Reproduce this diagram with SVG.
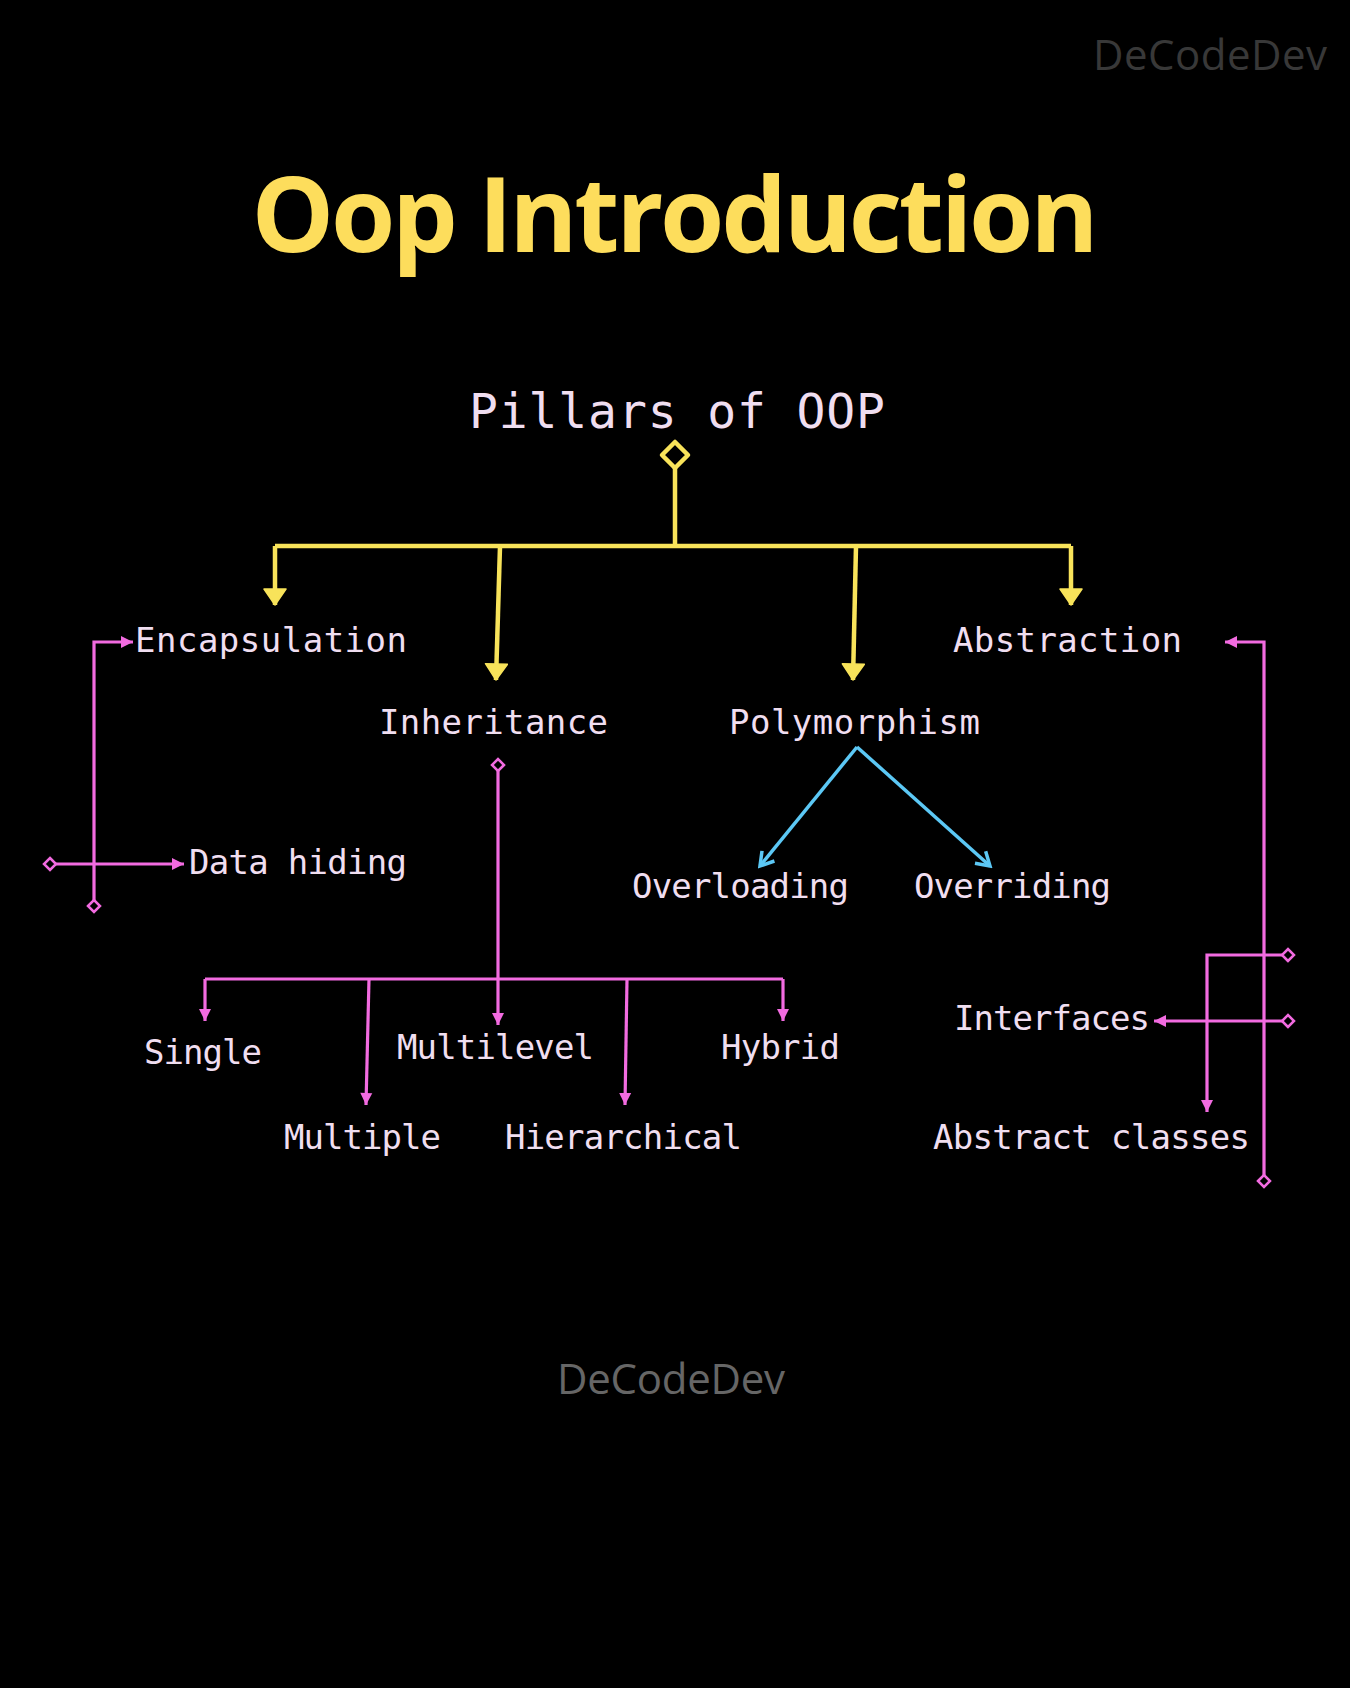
<svg xmlns="http://www.w3.org/2000/svg" width="1350" height="1688" viewBox="0 0 1350 1688">
<style>
.lbl{font-family:"DejaVu Sans Mono","Liberation Mono",monospace;font-size:34px;fill:#F0DEF0;}
.big{font-size:48px;}
.wm{font-family:"Open Sans","Noto Sans","Liberation Sans",sans-serif;font-size:42px;}
.y{stroke:#F8E35A;stroke-width:4.5;fill:none;}
.p{stroke:#F26BE0;stroke-width:3.2;fill:none;}
.b{stroke:#5CC8F5;stroke-width:3.5;fill:none;}
</style>
<defs>
<marker id="ay" markerUnits="userSpaceOnUse" markerWidth="24" markerHeight="24" viewBox="0 0 24 24" refX="20" refY="12" orient="auto"><path d="M4,1 L20,12 L4,23 Z" fill="#F8E35A" stroke="#F8E35A" stroke-width="1.5" stroke-linejoin="round"/></marker>
<marker id="ap" markerUnits="userSpaceOnUse" markerWidth="16" markerHeight="16" viewBox="0 0 16 16" refX="14" refY="8" orient="auto"><path d="M2,2 L14,8 L2,14 Z" fill="#F26BE0"/></marker>
<marker id="ab" markerUnits="userSpaceOnUse" markerWidth="20" markerHeight="20" viewBox="0 0 20 20" refX="17" refY="10" orient="auto"><path d="M4,2 L17,10 L4,18" fill="none" stroke="#5CC8F5" stroke-width="3.5"/></marker>
<marker id="dp" markerUnits="userSpaceOnUse" markerWidth="16" markerHeight="16" viewBox="0 0 16 16" refX="8" refY="8" orient="auto"><path d="M8,2 L14,8 L8,14 L2,8 Z" fill="#000" stroke="#F26BE0" stroke-width="2.5"/></marker>
<marker id="dy" markerUnits="userSpaceOnUse" markerWidth="34" markerHeight="34" viewBox="0 0 34 34" refX="17" refY="17" orient="auto"><path d="M17,4 L30,17 L17,30 L4,17 Z" fill="#000" stroke="#F8E35A" stroke-width="4.5" stroke-linejoin="round"/></marker>
</defs>
<rect width="1350" height="1688" fill="#000"/>

<text class="wm" x="1093" y="70" textLength="234" fill="#383838">DeCodeDev</text>
<text x="675" y="252" text-anchor="middle" textLength="847" font-family="'Open Sans','Noto Sans','Liberation Sans',sans-serif" font-weight="700" font-size="104" fill="#FDDD5C">Oop Introduction</text>
<text class="wm" x="557" y="1394" textLength="228" fill="#666666">DeCodeDev</text>

<g id="connectors">
  <path class="y" d="M675,455 V546" marker-start="url(#dy)"/>
  <path class="y" d="M275,546 H1071"/>
  <path class="y" d="M275,546 V605" marker-end="url(#ay)"/>
  <path class="y" d="M500,546 L496,680" marker-end="url(#ay)"/>
  <path class="y" d="M856,546 L853,680" marker-end="url(#ay)"/>
  <path class="y" d="M1071,546 V605" marker-end="url(#ay)"/>

  <path class="p" d="M94,906 V642 H133" marker-start="url(#dp)" marker-end="url(#ap)"/>
  <path class="p" d="M50,864 H184" marker-start="url(#dp)" marker-end="url(#ap)"/>

  <path class="p" d="M498,765 V1025" marker-start="url(#dp)" marker-end="url(#ap)"/>
  <path class="p" d="M205,979 H783"/>
  <path class="p" d="M205,979 V1021" marker-end="url(#ap)"/>
  <path class="p" d="M369,979 L366,1105" marker-end="url(#ap)"/>
  <path class="p" d="M627,979 L625,1105" marker-end="url(#ap)"/>
  <path class="p" d="M783,979 V1021" marker-end="url(#ap)"/>

  <path class="b" d="M857,747 L760,866" marker-end="url(#ab)"/>
  <path class="b" d="M857,747 L990,866" marker-end="url(#ab)"/>

  <path class="p" d="M1264,1181 V642 H1225" marker-start="url(#dp)" marker-end="url(#ap)"/>
  <path class="p" d="M1288,955 H1207 V1112" marker-start="url(#dp)" marker-end="url(#ap)"/>
  <path class="p" d="M1288,1021 H1154" marker-start="url(#dp)" marker-end="url(#ap)"/>
</g>

<g id="pillars"><text class="lbl big" x="469" y="428" textLength="416">Pillars of OOP</text></g>
<g id="encapsulation"><text class="lbl" x="135" y="652" textLength="272">Encapsulation</text></g>
<g id="inheritance"><text class="lbl" x="379" y="734" textLength="229">Inheritance</text></g>
<g id="polymorphism"><text class="lbl" x="729" y="734" textLength="251">Polymorphism</text></g>
<g id="abstraction"><text class="lbl" x="953" y="652" textLength="229">Abstraction</text></g>
<g id="data-hiding"><text class="lbl" x="189" y="874" textLength="218">Data hiding</text></g>
<g id="overloading"><text class="lbl" x="632" y="898" textLength="217">Overloading</text></g>
<g id="overriding"><text class="lbl" x="914" y="898" textLength="197">Overriding</text></g>
<g id="single"><text class="lbl" x="144" y="1064" textLength="118">Single</text></g>
<g id="multilevel"><text class="lbl" x="397" y="1059" textLength="197">Multilevel</text></g>
<g id="hybrid"><text class="lbl" x="721" y="1059" textLength="119">Hybrid</text></g>
<g id="multiple"><text class="lbl" x="284" y="1149" textLength="157">Multiple</text></g>
<g id="hierarchical"><text class="lbl" x="505" y="1149" textLength="237">Hierarchical</text></g>
<g id="interfaces"><text class="lbl" x="954" y="1030" textLength="196">Interfaces</text></g>
<g id="abstract-classes"><text class="lbl" x="933" y="1149" textLength="317">Abstract classes</text></g>
</svg>
